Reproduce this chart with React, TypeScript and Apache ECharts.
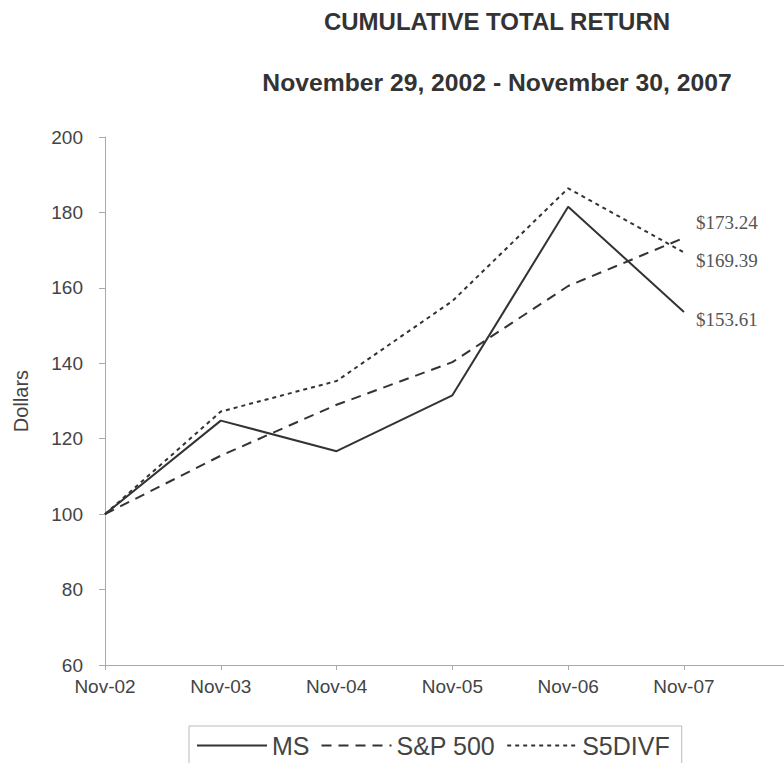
import React, { useEffect, useRef } from "react";
import * as echarts from "echarts";

const categories = ["Nov-02", "Nov-03", "Nov-04", "Nov-05", "Nov-06", "Nov-07"];
const msValues = [100, 124.8, 116.7, 131.5, 181.5, 153.61];
const spValues = [100, 115.5, 129, 140.3, 160.5, 173.24];
const divValues = [100, 127.2, 135.3, 156.5, 186.4, 169.39];
const yTicks = [60, 80, 100, 120, 140, 160, 180, 200];
const xAxisExtent = 5.864; // axis line runs past the last category to the page edge

const SANS = "Liberation Sans, Arial, sans-serif";
const SERIF = "Liberation Serif, Times New Roman, serif";

const toPoints = (vals: number[]) => vals.map((v, i) => [i, v]);

export default function App() {
  const ref = useRef<HTMLDivElement>(null);
  useEffect(() => {
    if (!ref.current) return;
    const chart = echarts.init(ref.current, null, { renderer: "svg" });
    const endLabel = (dy: number) => ({
      show: true,
      formatter: (p: any) => "$" + Number(p.value[1]).toFixed(2),
      fontFamily: SERIF,
      fontSize: 19,
      color: "#555",
      offset: [4, dy],
    });
    chart.setOption({
      animation: false,
      backgroundColor: "#fff",
      title: [
        {
          text: "CUMULATIVE TOTAL RETURN",
          left: 492,
          top: 4,
          textAlign: "center",
          textStyle: { fontFamily: SANS, fontSize: 24, fontWeight: "bold", color: "#333" },
        },
        {
          text: "November 29, 2002 - November 30, 2007",
          left: 492,
          top: 65,
          textAlign: "center",
          textStyle: { fontFamily: SANS, fontSize: 24.7, fontWeight: "bold", color: "#333" },
        },
      ],
      grid: { left: 105, right: 0, top: 137, bottom: 98, containLabel: false },
      legend: {
        left: 189,
        top: 726,
        orient: "horizontal",
        borderColor: "#bbb",
        borderWidth: 1,
        padding: [7, 12, 20, 7],
        itemGap: 11,
        itemWidth: 70,
        itemHeight: 14,
        itemStyle: { opacity: 0 },
        textStyle: { fontFamily: SANS, fontSize: 25, color: "#444" },
        data: ["MS", "S&P 500", "S5DIVF"],
      },
      xAxis: {
        type: "value",
        min: 0,
        max: xAxisExtent,
        interval: 1,
        axisLine: { show: true, lineStyle: { color: "#aaa", width: 1 } },
        axisTick: { show: true, length: 5, lineStyle: { color: "#aaa" } },
        axisLabel: {
          fontFamily: SANS,
          fontSize: 19,
          color: "#444",
          margin: 12,
          showMaxLabel: false,
          formatter: (v: number) => (Number.isInteger(v) && categories[v] ? categories[v] : ""),
        },
        splitLine: { show: false },
      },
      yAxis: {
        type: "value",
        min: yTicks[0],
        max: yTicks[yTicks.length - 1],
        interval: 20,
        name: "Dollars",
        nameLocation: "middle",
        nameGap: 74,
        nameRotate: 90,
        nameTextStyle: { fontFamily: SANS, fontSize: 20, color: "#444" },
        axisLine: { show: true, lineStyle: { color: "#aaa", width: 1 } },
        axisTick: { show: true, length: 6, lineStyle: { color: "#aaa" } },
        axisLabel: { fontFamily: SANS, fontSize: 19, color: "#444", margin: 22 },
        splitLine: { show: false },
      },
      series: [
        {
          name: "MS",
          type: "line",
          data: toPoints(msValues),
          symbol: "none",
          lineStyle: { color: "#333", width: 2, type: "solid" },
          itemStyle: { color: "#333" },
          endLabel: endLabel(8),
        },
        {
          name: "S&P 500",
          type: "line",
          data: toPoints(spValues),
          symbol: "none",
          lineStyle: { color: "#333", width: 2, type: [10, 7] },
          itemStyle: { color: "#333" },
          endLabel: endLabel(-15),
        },
        {
          name: "S5DIVF",
          type: "line",
          data: toPoints(divValues),
          symbol: "none",
          lineStyle: { color: "#333", width: 2, type: [4, 4] },
          itemStyle: { color: "#333" },
          endLabel: endLabel(8),
        },
      ],
    });
    return () => chart.dispose();
  }, []);
  return (
    <div
      ref={ref}
      style={{ position: "fixed", left: 0, top: 0, width: 784, height: 763 }}
    />
  );
}
